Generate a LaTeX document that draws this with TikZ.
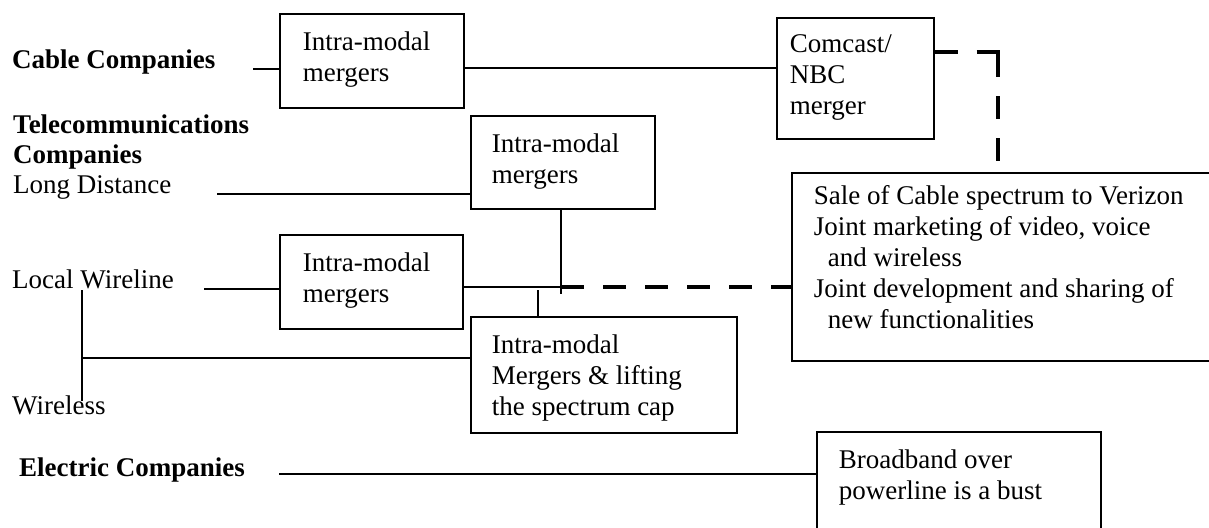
\documentclass[tikz,border=0pt]{standalone}
\usepackage{fontspec}
\setmainfont{Liberation Serif}
\newcommand\boxtext[5]{%
  \begin{minipage}[t][#2pt][t]{#1pt}\raggedright\leftskip=#3pt\relax
  \rule{0pt}{#4pt}#5\end{minipage}}
\begin{document}
\begin{tikzpicture}[x=1pt,y=-1pt,
  every node/.style={inner sep=0pt, font=\fontsize{27}{31}\selectfont},
  box/.style={draw, line width=1.6pt, anchor=north west},
  lbl/.style={anchor=base west},
  hdr/.style={anchor=base west, font=\fontsize{27}{31}\selectfont\bfseries},
  conn/.style={line width=1.6pt},
  thickdash/.style={line width=4pt, dash pattern=on 23pt off 19pt}]
\useasboundingbox (0,0) rectangle (1209,527);
\clip (0,0) rectangle (1209,527);

% left labels
\node[hdr] (cable) at (12,68) {Cable Companies};
\node[hdr] (telecom) at (13,133) {Telecommunications};
\node[hdr] (telecomb) at (13,163) {Companies};
\node[lbl] (ld) at (13,193) {Long Distance};
\node[lbl] (lw) at (12,288) {Local Wireline};
\node[lbl] (wl) at (12,414) {Wireless};
\node[hdr] (elec) at (19,476) {Electric Companies};

% boxes
\node[box] (b1) at (279,13) {\boxtext{184}{94}{23}{37}{Intra-modal\\mergers}};
\node[box] (cc) at (776,17) {\boxtext{157}{121}{13}{35}{Comcast/\\NBC\\merger}};
\node[box] (b2) at (470,115) {\boxtext{184}{93}{21}{37}{Intra-modal\\mergers}};
\node[box] (b3) at (279,234) {\boxtext{183}{94}{23}{37}{Intra-modal\\mergers}};
\node[box] (b4) at (470,316) {\boxtext{266}{116}{21}{37}{Intra-modal\\Mergers \& lifting\\the spectrum cap}};
\node[box] (big) at (791,172) {\boxtext{430}{188}{22}{32}{Sale of Cable spectrum to Verizon\\Joint marketing of video, voice\\\hspace*{14pt}and wireless\\Joint development and sharing of\\\hspace*{14pt}new functionalities}};
\node[box] (bb) at (816,431) {\boxtext{284}{120}{22}{37}{Broadband over\\powerline is a bust}};

% coordinates
\coordinate (cableL) at (253,69);
\coordinate (cableR) at (0,68);
\coordinate (ccY) at (0,52);
\coordinate (ccCorner) at (998,52);
\coordinate (ccEnd) at (998,162);
\coordinate (ldL) at (217,194);
\coordinate (lwL) at (204,289);
\coordinate (jn) at (561,287);
\coordinate (jnlow) at (561,294);
\coordinate (sv) at (538,290);
\coordinate (vtop) at (82,290);
\coordinate (vbot) at (82,401);
\coordinate (wlJ) at (82,358);
\coordinate (elL) at (279,474);

% connectors
\draw[conn] (cableL) -- (cableL -| b1.west);
\draw[conn] (b1.east |- cableR) -- (cc.west |- cableR);
\draw[thickdash] (cc.east |- ccY) -- ([xshift=2pt]ccCorner);
\draw[thickdash] ([yshift=-2pt]ccCorner) -- (ccEnd);
\draw[conn] (ldL) -- (ldL -| b2.west);
\draw[conn] (lwL) -- (lwL -| b3.west);
\draw[conn] (b3.east |- jn) -- (jn);
\draw[thickdash] (jn) -- (jn -| big.west);
\draw[conn] (b2.south -| jn) -- (jnlow);
\draw[conn] (sv) -- (sv |- b4.north);
\draw[conn] (vtop) -- (vbot);
\draw[conn] (wlJ) -- (wlJ -| b4.west);
\draw[conn] (elL) -- (elL -| bb.west);
\end{tikzpicture}
\end{document}
